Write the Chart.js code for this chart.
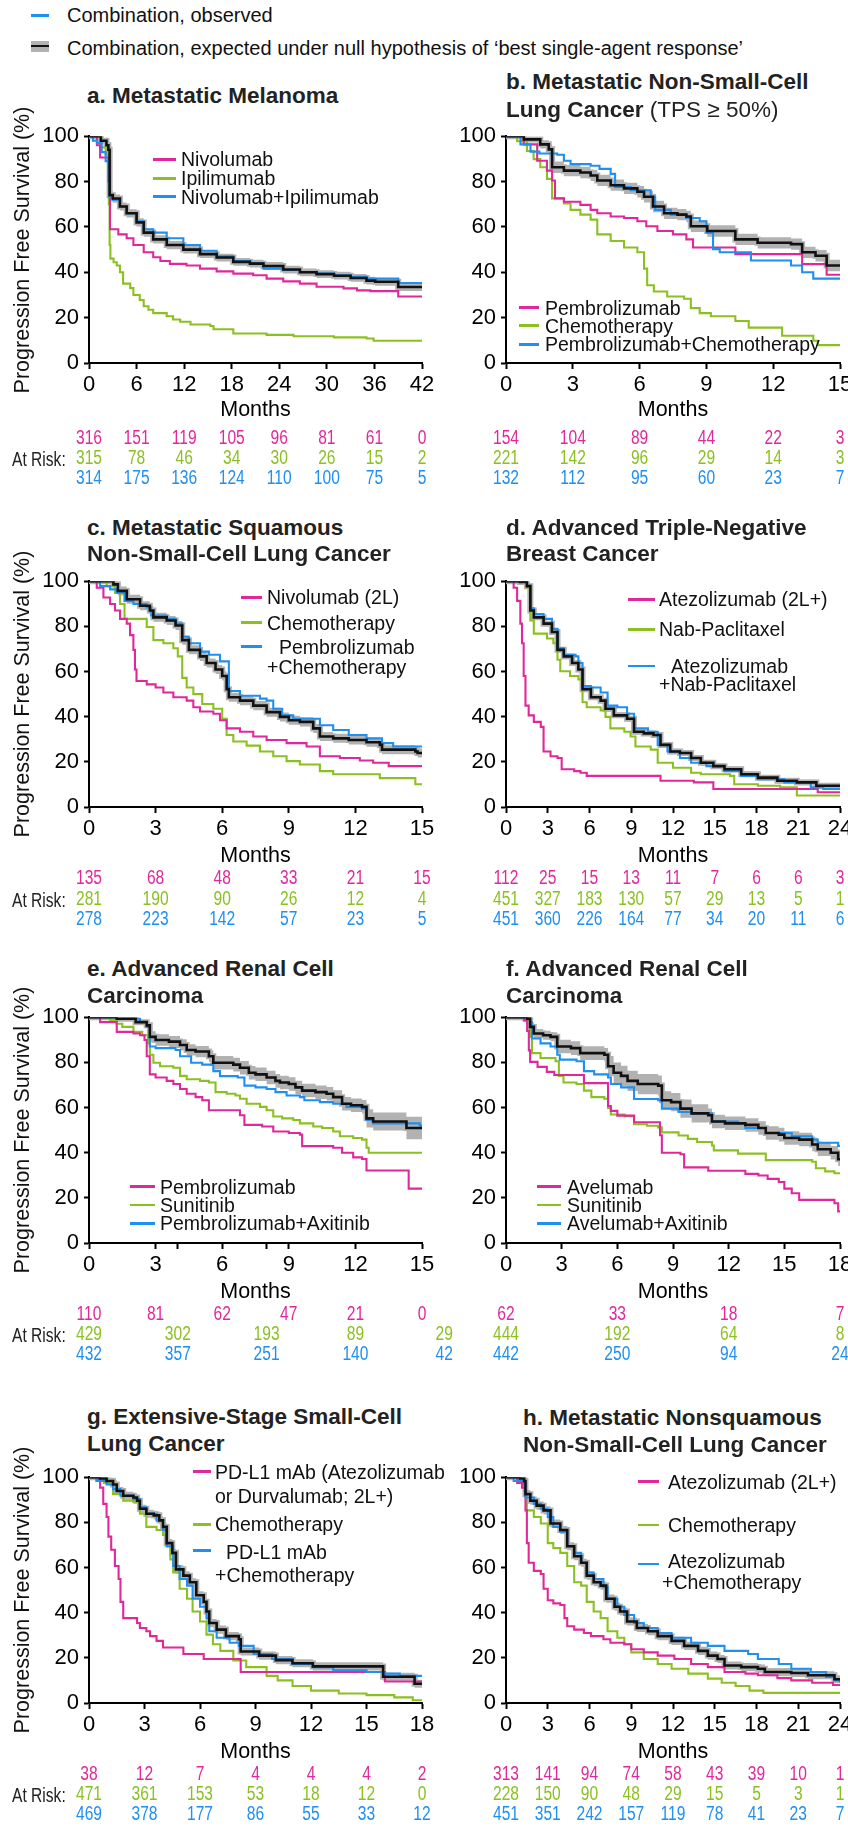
<!DOCTYPE html>
<html><head><meta charset="utf-8">
<script src="https://cdn.jsdelivr.net/npm/chart.js@4.4.1/dist/chart.umd.min.js"></script>
<style>
html,body{margin:0;padding:0;width:848px;height:1827px;overflow:hidden;background:#fff;}
body{position:relative;font-family:'Liberation Sans',Arial,Helvetica,sans-serif;color:#111;}
.abs{position:absolute;white-space:nowrap;}
.title{font-size:22.5px;font-weight:bold;line-height:27.5px;color:#222;}
.title .n{font-weight:normal;}
.leg{font-size:19.5px;line-height:22px;color:#111;}
.top{font-size:20px;line-height:24px;color:#111;}
.ln{position:absolute;height:2.5px;}
.ytitle{font-size:21.5px;width:320px;height:26px;line-height:26px;text-align:center;transform:rotate(-90deg);color:#111;}
.risk{font-size:19.5px;line-height:22px;transform:scaleX(0.8);transform-origin:left center;color:#222;}
canvas{position:absolute;}
</style></head><body>
<script>
// ---------------- DATA ----------------
const yTicks = [0,20,40,60,80,100];

// a. Metastatic Melanoma
const aTicks = [0,6,12,18,24,30,36,42];
const aNivo = [[0,100],[1.0,96],[1.4,90.6],[2.5,89],[2.65,59],[3.7,56.7],[4.75,55],[5.6,52],[6.9,48.8],[8.1,46.6],[9,45],[10.2,43.7],[12.3,43],[14,41.6],[16.1,40.4],[18.2,39.4],[20.7,38.7],[22.4,37.2],[24.5,36],[26.6,35],[28.7,33.6],[32.1,32.9],[33.8,32],[35.5,31.7],[39,29.3],[42,29.3]];
const aIpi = [[0,100],[1.4,95],[2.1,92],[2.4,88],[2.5,70],[2.6,52],[2.7,46],[3.1,44.4],[3.5,43],[3.9,40],[4.3,35],[5.2,33],[5.6,30],[6.4,27.8],[6.9,25],[7.5,23.5],[8.1,22],[9.8,20.6],[10.6,19.2],[11.5,18.2],[12.8,17],[15.3,16.3],[15.7,14.9],[18.2,13],[22.4,12.4],[25.8,11.8],[30.9,11.3],[35,10.8],[35.9,9.8],[42,9.8]];
const aCombo = [[0,100],[0.5,98],[1.0,97],[1.6,93],[2.1,89],[2.44,80],[2.6,73],[3.0,72],[3.9,69],[4.75,66],[6,62.5],[6.9,59],[8.1,57.5],[9.8,55],[11.9,52],[14,49.5],[16.1,47],[18.2,45],[20.3,44],[22,41.6],[24.5,41],[26.6,40],[28.7,39.4],[30.9,38.7],[33,38],[35,37.2],[39,35.3],[42,35.3]];
const aExp = [[0,100],[1.5,98],[2.2,96],[2.44,94],[2.6,74],[3.0,72.5],[3.9,69],[4.75,66],[6,62],[6.9,57.5],[8.1,54.5],[9.8,52],[11.9,50],[14,48],[16.1,46.5],[18.2,44.6],[20.3,43.8],[22,42.8],[24.5,41.2],[26.6,40],[28.7,39.2],[30.9,38.5],[33,37.5],[35,36.3],[36.1,35.8],[39,33.5],[42,33.5]];
const aBand = [[0,99.5,100],[1.5,96.8,99.2],[2.2,94.6,97.4],[2.44,92.5,95.5],[2.6,72.2,75.8],[3.0,70.7,74.3],[3.9,67.2,70.8],[4.75,64.2,67.8],[6,60.2,63.8],[6.9,55.7,59.3],[8.1,52.7,56.3],[9.8,50.2,53.8],[11.9,48.3,51.7],[14,46.3,49.7],[16.1,44.8,48.2],[18.2,42.9,46.3],[20.3,42.1,45.5],[22,41.1,44.5],[24.5,39.5,42.9],[26.6,38.3,41.7],[28.7,37.5,40.9],[30.9,36.8,40.2],[33,35.8,39.2],[35,34.6,38],[36.1,34.1,37.5],[39,31.8,35.2],[42,31.8,35.2]];
const aRiskT = [0,6,12,18,24,30,36,42];
const aRiskMag = [316,151,119,105,96,81,61,0];
const aRiskGrn = [315,78,46,34,30,26,15,2];
const aRiskBlu = [314,175,136,124,110,100,75,5];

// b. Metastatic NSCLC (TPS >= 50%)
const bTicks = [0,3,6,9,12,15];
const bPembro = [[0,100],[0.8,96.4],[1.4,89.2],[1.84,84.8],[2.07,80.5],[2.2,72.6],[2.6,71.1],[3.34,69.7],[3.8,67.5],[4.1,66],[4.7,64.6],[5.3,63.9],[5.9,62.5],[6.3,60.3],[6.8,58.2],[7.5,56.7],[8.1,54.5],[8.4,50.9],[10.3,48],[13.3,43.6],[14.4,38.9],[15,38.9]];
const bChemo = [[0,100],[0.5,97.8],[0.94,93.5],[1.24,89.9],[1.54,86.3],[1.84,81.2],[2.07,72.6],[2.6,70.4],[2.9,67.5],[3.34,65.4],[3.8,63.2],[4.1,56.7],[4.7,53.8],[5.3,50.9],[5.9,48.8],[6.2,41.6],[6.34,34.3],[6.64,31.5],[7.24,29.3],[8.0,28.3],[8.3,24.2],[8.7,22],[9.2,20.6],[10.3,18.5],[10.9,15.6],[12.4,12],[13.8,9.8],[14,7.9],[15,7.9]];
const bCombo = [[0,100],[0.65,96.4],[1.1,93.2],[1.5,92.4],[2.3,91.8],[2.6,89.2],[2.9,87.7],[3.8,87],[4.2,85.6],[4.7,83.4],[4.9,77.6],[5.6,76.2],[6.5,73.3],[6.7,67.5],[7.4,65.4],[8.1,63.9],[8.7,62.5],[9.0,57.4],[9.3,50.2],[9.6,48.8],[11,45.2],[12.8,43],[13.3,40],[13.8,37.2],[15,37.2]];
const bExp = [[0,100],[0.8,98.6],[1.54,96.4],[1.92,94.2],[2.07,86.3],[2.6,84.8],[3.34,84],[3.8,82.7],[4.1,80.5],[4.7,78.4],[5.3,77],[5.9,75.5],[6.2,73.3],[6.6,69],[7.1,66],[7.7,65.4],[8.1,64.6],[8.3,60.3],[9.04,58.2],[10.3,54.5],[11.3,53],[12.8,52.4],[13.3,48.8],[13.9,47.3],[14.4,43],[15,42.7]];
const bBand = [[0,99.5,100],[0.8,97.6,99.6],[1.54,94.6,98.2],[1.92,92,96.4],[2.07,83.8,88.8],[2.6,82.3,87.3],[3.34,81.5,86.5],[3.8,80.2,85.2],[4.1,78,83],[4.7,75.9,80.9],[5.3,74.5,79.5],[5.9,73,78],[6.2,70.8,75.8],[6.6,66.5,71.5],[7.1,63.5,68.5],[7.7,62.9,67.9],[8.1,62.1,67.1],[8.3,57.8,62.8],[9.04,55.7,60.7],[10.3,52,57],[11.3,50.5,55.5],[12.8,49.9,54.9],[13.3,46.3,51.3],[13.9,44.8,49.8],[14.4,40.5,45.5],[15,40.2,45.2]];
const bRiskT = [0,3,6,9,12,15];
const bRiskMag = [154,104,89,44,22,3];
const bRiskGrn = [221,142,96,29,14,3];
const bRiskBlu = [132,112,95,60,23,7];

// c. Metastatic Squamous NSCLC
const cTicks = [0,3,6,9,12,15];
const cNivo = [[0,100],[0.35,97.1],[0.65,92.8],[0.95,89.9],[1.17,87],[1.4,83.3],[1.7,81.2],[1.85,76.1],[2.0,69.6],[2.07,60.9],[2.14,55.8],[2.6,54.3],[3.0,52.9],[3.35,50.7],[3.8,48.6],[4.4,47.1],[4.7,44.2],[5.0,42.3],[5.6,41.3],[5.9,38.4],[6.2,34.8],[6.8,33.3],[7.4,31.2],[8.0,29.7],[8.9,28.3],[9.8,26.8],[10.4,22.5],[11.3,21.7],[12.2,20.6],[12.8,19.6],[13.5,18.1],[15,18.1]];
const cChemo = [[0,100],[0.8,97.8],[1.17,94.9],[1.4,89.9],[1.6,83.3],[2.6,79.7],[2.9,73.9],[3.35,72.5],[3.8,70.3],[4.0,66.7],[4.2,57.2],[4.4,52.9],[4.7,50],[5.1,45.6],[5.6,43.5],[6.0,39.1],[6.2,31.9],[6.5,29],[7.1,27.2],[7.7,24.6],[8.3,22.5],[8.9,20.3],[9.5,18.8],[10.4,15.9],[11.0,14.5],[13.1,12.8],[14.7,10.1],[15,10.1]];
const cCombo = [[0,100],[0.5,97.8],[0.95,96.4],[1.25,94.9],[1.6,91.3],[2.0,89.9],[2.6,88.4],[2.8,84.8],[3.5,83.3],[3.9,81.2],[4.2,75.4],[4.5,72.5],[5.0,68.8],[5.4,67.4],[5.9,64.5],[6.3,51.4],[6.8,49.3],[7.7,48],[8.0,47.1],[8.3,43.5],[8.7,40.6],[9.2,39.1],[10.4,36.2],[11.0,34.1],[11.7,31.9],[12.5,30.4],[13.2,28.3],[13.7,26.8],[15,26.8]];
const cExp = [[0,100],[1.1,98.6],[1.3,95.7],[1.7,92],[2.3,89.1],[2.74,87],[2.9,84],[3.5,82.6],[3.9,80.4],[4.2,73.9],[4.5,69.6],[5.0,66.7],[5.3,63.8],[5.7,60.9],[6.0,58],[6.2,52.2],[6.3,48.6],[6.8,47.1],[7.4,44.9],[8.0,42],[8.6,39.9],[9.0,38.4],[9.5,37.7],[10.1,34.8],[10.4,31.2],[11,30.4],[11.7,29.7],[12.5,28.7],[13.1,27.5],[13.2,25.4],[14.7,24.6],[14.8,23.9],[15,23.9]];
const cBand = [[0,99.5,100],[1.1,97,100],[1.3,93.7,97.7],[1.7,90,94],[2.3,87.1,91.1],[2.74,85,89],[2.9,82,86],[3.5,80.6,84.6],[3.9,78.4,82.4],[4.2,71.9,75.9],[4.5,67.6,71.6],[5.0,64.7,68.7],[5.3,61.8,65.8],[5.7,58.9,62.9],[6.0,56,60],[6.2,50.2,54.2],[6.3,46.6,50.6],[6.8,45.1,49.1],[7.4,42.9,46.9],[8.0,40,44],[8.6,37.9,41.9],[9.0,36.4,40.4],[9.5,35.7,39.7],[10.1,32.8,36.8],[10.4,29.2,33.2],[11,28.4,32.4],[11.7,27.7,31.7],[12.5,26.7,30.7],[13.1,25.5,29.5],[13.2,23.4,27.4],[14.7,22.6,26.6],[14.8,21.9,25.9],[15,21.9,25.9]];
const cRiskT = [0,3,6,9,12,15];
const cRiskMag = [135,68,48,33,21,15];
const cRiskGrn = [281,190,90,26,12,4];
const cRiskBlu = [278,223,142,57,23,5];

// d. Advanced Triple-Negative Breast Cancer
const dTicks = [0,3,6,9,12,15,18,21,24];
const dAtezo = [[0,100],[0.55,97.1],[0.8,91.3],[1.03,81.2],[1.15,72.5],[1.27,58],[1.4,44.9],[1.63,40.6],[2.0,37.7],[2.5,35.5],[2.7,24.6],[3.2,22.5],[3.7,21.7],[4.0,16.7],[4.9,15.9],[5.35,15.2],[5.8,13.8],[11.1,11.6],[13.5,10.9],[14.9,8],[22.4,6.5],[24,6.5]];
const dNab = [[0,100],[1.5,97.1],[1.75,82.6],[2.0,76.8],[2.95,74.6],[3.4,72.5],[3.7,65.2],[3.9,60.1],[4.6,58],[5.2,56.5],[5.5,46.4],[5.8,44.2],[6.8,42.8],[7.15,39.9],[7.5,34.8],[8.5,33.3],[8.95,31.2],[9.3,26.8],[10.4,25.4],[10.9,19.6],[12.0,17.4],[13.3,15.2],[14.0,14.5],[16.1,13.8],[16.4,10.1],[18.1,9.4],[19.7,8.7],[20.9,5.1],[24,5.1]];
const dCombo = [[0,100],[1.5,98],[1.75,88],[2.0,85.5],[2.7,83.3],[3.3,78.9],[3.7,70.3],[4.15,67.4],[5.0,66.7],[5.2,63.8],[5.5,53.6],[6.1,52.9],[6.8,50.7],[7.3,44.9],[8.0,44.2],[8.7,41.3],[9.2,34.8],[10.2,33.3],[10.9,27.5],[11.6,24.6],[12.5,21.7],[13.3,19.6],[14.4,18.1],[15.7,15.9],[16.9,13.8],[18.1,12.3],[20,10.9],[21.9,8.7],[22.8,8],[24,8]];
const dExp = [[0,100],[1.0,99.7],[1.5,97.8],[1.75,87],[2.0,84],[2.7,81.2],[3.3,77.5],[3.7,69.6],[4.15,66.7],[4.75,63.8],[5.2,60.9],[5.5,52.2],[6.1,48.6],[6.8,47.1],[7.15,43.5],[7.75,40.6],[8.7,39.1],[9.2,33.3],[9.9,32.6],[10.6,31.9],[11.1,27.5],[11.8,24.6],[12.5,23.9],[13.3,21.7],[14.0,19.6],[14.9,18.1],[15.7,16.7],[16.9,14.5],[18.1,13],[19.5,11.6],[20.9,10.9],[22.3,9.4],[24,9.4]];
const dBand = [[0,99.5,100],[1.0,98.7,100],[1.5,96.6,99],[1.75,85.8,88.2],[2.0,82.8,85.2],[2.7,80,82.4],[3.3,76.3,78.7],[3.7,68.4,70.8],[4.15,65.5,67.9],[4.75,62.6,65],[5.2,59.7,62.1],[5.5,51,53.4],[6.1,47.4,49.8],[6.8,45.9,48.3],[7.15,42.3,44.7],[7.75,39.4,41.8],[8.7,37.9,40.3],[9.2,32.1,34.5],[9.9,31.4,33.8],[10.6,30.7,33.1],[11.1,26.3,28.7],[11.8,23.4,25.8],[12.5,22.7,25.1],[13.3,20.5,22.9],[14.0,18.4,20.8],[14.9,16.9,19.3],[15.7,15.5,17.9],[16.9,13.3,15.7],[18.1,11.8,14.2],[19.5,10.4,12.8],[20.9,9.7,12.1],[22.3,8.2,10.6],[24,8.2,10.6]];
const dRiskT = [0,3,6,9,12,15,18,21,24];
const dRiskMag = [112,25,15,13,11,7,6,6,3];
const dRiskGrn = [451,327,183,130,57,29,13,5,1];
const dRiskBlu = [451,360,226,164,77,34,20,11,6];

// e. Advanced Renal Cell Carcinoma (pembrolizumab)
const eTicks = [0,3,4,6,8,9,12,15];
const eTickLabels = ['0','3','','6','','9','12','15'];
const ePembro = [[0,100],[0.5,97.8],[1.25,93.5],[2.0,92.8],[2.3,92],[2.5,89.9],[2.6,82.7],[2.74,74.7],[3.0,73.3],[3.5,71.8],[3.8,70.4],[4.1,68.2],[4.4,66.1],[4.8,64.6],[5.1,63.2],[5.4,58.8],[6.8,56.6],[7.0,52.3],[7.8,51.6],[8.3,49.4],[9.0,48.7],[9.5,48],[9.6,42.9],[11.0,42.2],[11.4,40],[11.9,37.9],[12.3,37.2],[12.5,32.1],[14.4,24.1],[15,24.1]];
const eSuni = [[0,100],[0.95,98.6],[1.25,97.1],[1.5,95.7],[2.0,93.5],[2.4,92],[2.66,88.4],[2.74,83.4],[2.9,79.8],[3.2,78.3],[3.8,77.6],[4.1,74],[4.4,72.5],[5.0,71.8],[5.4,71.1],[5.7,66.8],[6.2,66.1],[6.6,65.3],[6.8,63.9],[7.1,61.7],[7.7,60.3],[8.0,58.8],[8.3,56],[8.7,55.2],[9.2,54.5],[9.5,53],[10.1,51.6],[10.5,50.9],[11.0,49.4],[11.3,47.3],[11.9,46.5],[12.3,45.8],[12.5,42.2],[12.6,40],[15,40]];
const eCombo = [[0,100],[1.25,99.3],[2.3,97.8],[2.6,95.7],[2.74,87],[3.0,86.3],[3.9,85.5],[4.1,82.7],[4.6,79.8],[5.1,79],[5.6,76.1],[5.9,73.9],[6.7,73.3],[7.0,69.7],[7.5,68.9],[8.0,68.2],[8.4,66.8],[8.9,65.3],[9.5,64.6],[9.7,63.2],[10.4,62.4],[11.0,61.7],[11.6,60.3],[12.3,59.5],[12.5,54.5],[12.8,53],[14.9,52],[15,52]];
const eExp = [[0,100],[1.25,99.3],[2.1,97.8],[2.6,96.4],[2.74,91.3],[3.0,89.9],[3.6,89.2],[4.1,87.7],[4.4,85.5],[4.8,84.8],[5.4,82.7],[5.6,79.8],[6.5,79],[6.8,77.6],[7.2,75.4],[7.5,74.7],[8.0,73.3],[8.4,71.8],[8.6,71.1],[9.0,70.4],[9.3,68.9],[9.6,67.5],[10.2,66.8],[10.7,66.1],[11.0,64.6],[11.4,61.7],[11.8,61],[12.3,60.3],[12.5,55.2],[12.8,53.8],[14.3,50.9],[15,50.9]];
const eBand = [[0,99.5,100],[1.25,98.5,100],[2.1,97,98.6],[2.6,95.6,97.2],[2.74,88.8,93.8],[3.0,87.4,92.4],[3.6,86.7,91.7],[4.1,85.2,90.2],[4.4,83,88],[4.8,82.3,87.3],[5.4,80.2,85.2],[5.6,76.8,82.8],[6.5,76,82],[6.8,74.6,80.6],[7.2,72.4,78.4],[7.5,71.7,77.7],[8.0,70.3,76.3],[8.4,68.8,74.8],[8.6,68.1,74.1],[9.0,67.4,73.4],[9.3,65.9,71.9],[9.6,64.5,70.5],[10.2,63.8,69.8],[10.7,63.1,69.1],[11.0,61.6,67.6],[11.4,58.7,64.7],[11.8,58,64],[12.3,57.3,63.3],[12.5,51.2,59.2],[12.8,49.8,57.8],[14.3,45.9,55.9],[15,45.9,55.9]];
const eRiskTMag = [0,3,6,9,12,15];
const eRiskTOther = [0,4,8,12,16];
const eRiskMag = [110,81,62,47,21,0];
const eRiskGrn = [429,302,193,89,29];
const eRiskBlu = [432,357,251,140,42];

// f. Advanced Renal Cell Carcinoma (avelumab)
const fTicks = [0,3,6,9,12,15,18];
const fAvel = [[0,100],[0.96,98.6],[1.14,93.9],[1.23,85.3],[1.3,80.2],[1.7,78],[2.2,75.8],[2.6,74.4],[4.2,70.8],[5.5,60.7],[5.65,58.5],[6.0,56.4],[6.9,53.5],[8.3,47.7],[8.4,40],[9.4,39.3],[9.6,33.5],[10.9,32],[12.9,30.6],[13.6,29.9],[14.1,28.4],[14.7,27],[15.0,24.1],[15.4,22],[15.8,19.1],[17.7,17.6],[17.9,14],[18,14]];
const fSuni = [[0,100],[1.14,98.6],[1.3,91.3],[1.4,84.1],[1.86,81.9],[2.67,80.5],[2.85,74],[3.1,71.1],[3.8,70.4],[4.2,67.5],[4.6,64.6],[5.3,63.9],[5.5,59.8],[5.65,56.9],[6.4,56.2],[6.9,52.6],[7.6,51.9],[8.2,51.2],[8.4,49],[9.3,47.6],[9.8,46.1],[10.3,44.7],[11.1,43.2],[11.2,41],[12.5,39.6],[14.0,36.7],[16.5,36],[16.7,33.1],[17.2,31.7],[17.7,30.9],[18,30.9]];
const fCombo = [[0,100],[1.3,97.8],[1.4,90.6],[1.86,88.4],[2.4,87],[2.76,83.4],[2.9,81.2],[3.8,80.5],[4.2,76.1],[4.75,74.7],[5.5,73.3],[5.65,70.4],[6.2,68.9],[6.9,63.8],[8.2,63.2],[8.4,59.5],[9.3,58],[10.0,57.4],[11.1,53.8],[12.5,53],[12.9,50.9],[14.0,48.7],[15.4,47.3],[16.5,45.8],[16.8,44.4],[17.9,43],[18,43]];
const fExp = [[0,100],[1.14,99.3],[1.3,95.7],[1.5,92.8],[2.0,92],[2.4,91.3],[2.76,87],[3.5,86.3],[4.0,84.1],[5.3,83.4],[5.5,78.3],[5.8,75.4],[6.2,74],[6.55,71.8],[7.1,70.4],[8.2,69.7],[8.4,63.2],[8.9,62.4],[9.4,59.5],[10.0,57.4],[10.9,56.6],[11.1,53.8],[11.8,53],[12.9,52.3],[13.6,50.9],[14.0,48.7],[14.7,48],[15.0,46.5],[15.8,45.8],[16.5,43.6],[16.8,41.5],[17.5,40],[17.9,37.1],[18,37.1]];
const fBand = [[0,99.4,100],[1.14,98.7,99.9],[1.3,93.7,97.7],[1.5,90.8,94.8],[2.0,90,94],[2.4,89.3,93.3],[2.76,84,90],[3.5,83.3,89.3],[4.0,81.1,87.1],[5.3,80.4,86.4],[5.5,73.8,82.8],[5.8,70.9,79.9],[6.2,69.5,78.5],[6.55,67.3,76.3],[7.1,65.9,74.9],[8.2,65.2,74.2],[8.4,59.2,67.2],[8.9,58.4,66.4],[9.4,55.5,63.5],[10.0,53.4,61.4],[10.9,53.6,59.6],[11.1,50.8,56.8],[11.8,50,56],[12.9,49.3,55.3],[13.6,47.9,53.9],[14.0,45.7,51.7],[14.7,45,51],[15.0,43.5,49.5],[15.8,42.8,48.8],[16.5,40.6,46.6],[16.8,38.5,44.5],[17.5,37,43],[17.9,34.1,40.1],[18,34.1,40.1]];
const fRiskT = [0,6,12,18];
const fRiskMag = [62,33,18,7];
const fRiskGrn = [444,192,64,8];
const fRiskBlu = [442,250,94,24];

// g. Extensive-Stage SCLC
const gTicks = [0,3,6,9,12,15,18];
const gPDL1 = [[0,100],[0.5,99],[0.6,95.4],[0.77,88.2],[0.95,82.4],[1.05,73.7],[1.2,67.9],[1.4,60.7],[1.6,54.9],[1.7,44.8],[1.85,37.6],[2.6,35.4],[2.75,33.2],[3.1,31.8],[3.3,29.6],[3.65,27.5],[4.0,24.6],[5.1,21.7],[6.2,19.5],[8.2,13.7],[16.0,9.5],[18,9.5]];
const gChemo = [[0,100],[0.4,99],[0.8,97.5],[1.3,92.5],[1.85,89.6],[2.4,88.9],[2.75,83.8],[3.1,78],[3.65,76.6],[4.0,74.4],[4.2,69.4],[4.4,63.6],[4.55,57.8],[4.9,50.6],[5.3,46.2],[5.6,40.5],[6.0,36.1],[6.35,30.3],[6.7,26],[7.1,23.1],[7.8,18.8],[8.5,15.9],[9.6,12],[10.2,10],[11,7.5],[12,5.5],[13.5,4.2],[15,3.5],[16.5,2.5],[17.5,1.2],[18,1.2]];
const gCombo = [[0,100],[0.4,98.3],[0.95,96.8],[1.3,94.7],[1.7,91.8],[2.4,90.3],[2.75,86.7],[3.1,83.8],[3.65,80.9],[4.0,76.6],[4.2,69.4],[4.55,60.7],[4.9,54.9],[5.3,52],[5.6,46.2],[6.0,42.6],[6.35,37.6],[6.5,31.8],[6.9,28.9],[7.6,26.7],[8.1,25.3],[8.9,21.7],[9.9,19.5],[11.0,17.3],[12.1,15.9],[13.2,14.5],[15.0,13.7],[15.9,13],[16.8,12],[18,12]];
const gExp = [[0,100],[0.6,99.4],[0.95,98.3],[1.3,96.8],[1.5,93.9],[1.85,91.8],[2.4,91],[2.6,89.6],[2.75,86],[3.1,83.8],[3.5,83.1],[3.8,80.9],[4.0,78],[4.2,70.8],[4.5,66.5],[4.7,59.2],[5.1,56.4],[5.45,53.5],[5.8,47.7],[6.2,44.8],[6.35,40.5],[6.5,35.4],[6.9,32.5],[7.4,29.6],[8.1,28.2],[8.2,22.8],[9.2,21],[10.1,19],[11.0,17.6],[12.1,16.2],[15.9,11.6],[17.6,8.5],[18,8.5]];
const gBand = [[0,99.5,100],[0.6,98.4,100],[0.95,96.5,100],[1.3,95,98.6],[1.5,92.1,95.7],[1.85,90,93.6],[2.4,89.2,92.8],[2.6,87.8,91.4],[2.75,84.2,87.8],[3.1,82,85.6],[3.5,81.3,84.9],[3.8,79.1,82.7],[4.0,76.2,79.8],[4.2,69,72.6],[4.5,64.7,68.3],[4.7,57.4,61],[5.1,54.6,58.2],[5.45,51.7,55.3],[5.8,45.9,49.5],[6.2,43,46.6],[6.35,38.7,42.3],[6.5,33.6,37.2],[6.9,30.7,34.3],[7.4,27.8,31.4],[8.1,26.4,30],[8.2,21,24.6],[9.2,19.2,22.8],[10.1,17.2,20.8],[11.0,15.8,19.4],[12.1,14.4,18],[15.9,9.8,13.4],[17.6,6.7,10.3],[18,6.7,10.3]];
const gRiskT = [0,3,6,9,12,15,18];
const gRiskMag = [38,12,7,4,4,4,2];
const gRiskGrn = [471,361,153,53,18,12,0];
const gRiskBlu = [469,378,177,86,55,33,12];

// h. Metastatic Nonsquamous NSCLC
const hTicks = [0,3,6,9,12,15,18,21,24];
const hAtezo = [[0,100],[0.8,97.5],[1.15,95.4],[1.4,85.3],[1.5,70.8],[1.63,62.1],[2.0,58.5],[2.5,57.1],[2.7,50.6],[3.0,45.5],[3.4,44.1],[3.9,43.4],[4.2,37.6],[4.4,34],[4.9,32.5],[5.6,31],[6.1,29.6],[7.0,28.2],[7.5,26.7],[8.5,26],[9.0,23.8],[9.9,22.4],[10.9,21],[12.1,19.5],[13.3,17.3],[14.5,15.9],[15.7,13.7],[17.2,13],[18.1,12.3],[19.5,11],[20.5,10],[22,9],[23.5,8],[24,8]];
const hChemo = [[0,100],[0.8,99],[1.3,93.9],[1.5,85.3],[2.0,82.4],[2.5,79.5],[3.0,70.8],[3.4,68.6],[3.9,66.5],[4.4,60.7],[4.9,53.5],[5.4,52],[5.8,44.8],[6.3,40.5],[6.8,37.6],[7.3,31.8],[8.0,28.9],[8.5,26],[9.0,22.4],[9.9,19.5],[10.9,17.3],[11.9,15.2],[13.1,13],[14.5,10.8],[15.5,9],[16.5,7.5],[17.5,5.5],[18.5,4.5],[24,4.5]];
const hCombo = [[0,100],[0.55,98.3],[1.3,96.8],[1.4,91],[2.0,88.2],[2.5,86],[3.0,82.4],[3.4,78],[3.9,75.9],[4.4,69.4],[4.9,66.5],[5.4,62.1],[5.8,57.8],[6.3,54.9],[7.0,51.3],[7.3,46.2],[8.0,42.6],[8.5,39],[9.2,35.4],[9.9,33.2],[10.9,31],[11.9,28.9],[13.3,26.7],[14.5,25.3],[15.7,23.1],[17.4,21.7],[18.1,19.5],[19.6,17.3],[20.5,15.2],[21.9,13.7],[23.0,11.5],[23.6,10],[24,9]];
const hExp = [[0,100],[1.0,99.4],[1.3,98.3],[1.4,92.5],[1.75,89.6],[2.2,87.4],[2.7,85.3],[3.2,79.5],[3.9,76.6],[4.4,69.4],[4.9,65],[5.4,62.1],[5.8,56.4],[6.3,53.5],[6.8,52],[7.2,46.2],[7.8,42.6],[8.2,40.5],[8.7,36.1],[9.4,33.2],[10.2,31.8],[10.9,29.6],[11.9,27.5],[12.8,25.3],[13.8,23.1],[14.5,21],[15.2,19.5],[15.7,16.6],[16.9,15.9],[18.1,15.2],[18.6,13.7],[20.5,13.3],[21.7,12.3],[23.6,10.5],[24,10.5]];
const hBand = [[0,99.5,100],[1.0,98.6,100],[1.3,96.5,100],[1.4,90.7,94.3],[1.75,87.8,91.4],[2.2,85.6,89.2],[2.7,83.5,87.1],[3.2,77.7,81.3],[3.9,74.8,78.4],[4.4,67.6,71.2],[4.9,63.2,66.8],[5.4,60.3,63.9],[5.8,54.6,58.2],[6.3,51.7,55.3],[6.8,50.2,53.8],[7.2,44.4,48],[7.8,40.8,44.4],[8.2,38.7,42.3],[8.7,34.3,37.9],[9.4,31.4,35],[10.2,30,33.6],[10.9,27.8,31.4],[11.9,25.7,29.3],[12.8,23.5,27.1],[13.8,21.3,24.9],[14.5,19.2,22.8],[15.2,17.7,21.3],[15.7,14.8,18.4],[16.9,14.1,17.7],[18.1,13.4,17],[18.6,11.9,15.5],[20.5,11.5,15.1],[21.7,10.5,14.1],[23.6,8.7,12.3],[24,8.7,12.3]];
const hRiskT = [0,3,6,9,12,15,18,21,24];
const hRiskMag = [313,141,94,74,58,43,39,10,1];
const hRiskGrn = [228,150,90,48,29,15,5,3,1];
const hRiskBlu = [451,351,242,157,119,78,41,23,7];

// ---------------- STYLE / LAYOUT ----------------
const COLORS = {mag:'#e0289b', grn:'#8cc021', blu:'#1f8ff0', blk:'#111111', band:'#b2b2b2'};
Chart.defaults.font.family = '"Liberation Sans", Arial, Helvetica, sans-serif';
Chart.defaults.color = '#000';

const panels = [
 {L:89,R:422,T:132,B:363,pr:45,xMax:42,ticks:aTicks,labels:aTicks.map(String),exp:aExp,band:aBand,mag:aNivo,grn:aIpi,blu:aCombo,
  risk:[[aRiskT,aRiskMag,'mag'],[aRiskT,aRiskGrn,'grn'],[aRiskT,aRiskBlu,'blu']],riskDy:[76,96,116],monthsDy:47},
 {L:506,R:840,T:132,B:363,pr:30,xMax:15,ticks:bTicks,labels:bTicks.map(String),exp:bExp,band:bBand,mag:bPembro,grn:bChemo,blu:bCombo,
  risk:[[bRiskT,bRiskMag,'mag'],[bRiskT,bRiskGrn,'grn'],[bRiskT,bRiskBlu,'blu']],riskDy:[76,96,116],monthsDy:47},
 {L:89,R:422,T:577,B:807,pr:45,xMax:15,ticks:cTicks,labels:cTicks.map(String),exp:cExp,band:cBand,mag:cNivo,grn:cChemo,blu:cCombo,
  risk:[[cRiskT,cRiskMag,'mag'],[cRiskT,cRiskGrn,'grn'],[cRiskT,cRiskBlu,'blu']],riskDy:[72,92.5,113],monthsDy:49},
 {L:506,R:840,T:577,B:807,pr:30,xMax:24,ticks:dTicks,labels:dTicks.map(String),exp:dExp,band:dBand,mag:dAtezo,grn:dNab,blu:dCombo,
  risk:[[dRiskT,dRiskMag,'mag'],[dRiskT,dRiskGrn,'grn'],[dRiskT,dRiskBlu,'blu']],riskDy:[72,92.5,113],monthsDy:49},
 {L:89,R:422,T:1013,B:1243,pr:45,xMax:15,ticks:eTicks,labels:eTickLabels,exp:eExp,band:eBand,mag:ePembro,grn:eSuni,blu:eCombo,
  risk:[[eRiskTMag,eRiskMag,'mag'],[eRiskTOther,eRiskGrn,'grn'],[eRiskTOther,eRiskBlu,'blu']],riskDy:[72,92,112],monthsDy:49},
 {L:506,R:840,T:1013,B:1243,pr:30,xMax:18,ticks:fTicks,labels:fTicks.map(String),exp:fExp,band:fBand,mag:fAvel,grn:fSuni,blu:fCombo,
  risk:[[fRiskT,fRiskMag,'mag'],[fRiskT,fRiskGrn,'grn'],[fRiskT,fRiskBlu,'blu']],riskDy:[72,92,112],monthsDy:49},
 {L:89,R:422,T:1473,B:1703,pr:45,xMax:18,ticks:gTicks,labels:gTicks.map(String),exp:gExp,band:gBand,mag:gPDL1,grn:gChemo,blu:gCombo,
  risk:[[gRiskT,gRiskMag,'mag'],[gRiskT,gRiskGrn,'grn'],[gRiskT,gRiskBlu,'blu']],riskDy:[72,92,112],monthsDy:49},
 {L:506,R:840,T:1473,B:1703,pr:30,xMax:24,ticks:hTicks,labels:hTicks.map(String),exp:hExp,band:hBand,mag:hAtezo,grn:hChemo,blu:hCombo,
  risk:[[hRiskT,hRiskMag,'mag'],[hRiskT,hRiskGrn,'grn'],[hRiskT,hRiskBlu,'blu']],riskDy:[72,92,112],monthsDy:49}
];

const panelOf = new Map();
const riskPlugin = {
  id:'atRisk',
  afterDraw(chart){
    const p = panelOf.get(chart.canvas); if(!p) return;
    const ctx = chart.ctx, xs = chart.scales.x, bottom = chart.chartArea.bottom;
    ctx.save();
    ctx.font = '19.5px "Liberation Sans", Arial, sans-serif';
    ctx.textAlign = 'center'; ctx.textBaseline = 'middle';
    p.risk.forEach((r,i)=>{
      const times = r[0], vals = r[1];
      ctx.fillStyle = COLORS[r[2]];
      times.forEach((t,j)=>{
        const x = xs.getPixelForValue(t), y = bottom + p.riskDy[i];
        ctx.save(); ctx.translate(x,y); ctx.scale(0.8,1); ctx.fillText(String(vals[j]),0,0); ctx.restore();
      });
    });
    ctx.restore();
  }
};

function build(p){
  const cx = p.L - 70, cy = p.T - 14;
  const cw = p.R - p.L + 70 + p.pr, ch = p.B - p.T + 14 + 62 + 80;
  const cv = document.createElement('canvas');
  cv.width = cw; cv.height = ch;
  cv.style.left = cx+'px'; cv.style.top = cy+'px'; cv.style.width = cw+'px'; cv.style.height = ch+'px';
  document.body.appendChild(cv);
  panelOf.set(cv, p);
  const line = (data,color,w)=>({data, borderColor:color, borderWidth:w, stepped:true, pointRadius:0, fill:false});
  const datasets = [
    line(p.exp, COLORS.blk, 2.6),
    line(p.blu, COLORS.blu, 2.1),
    line(p.mag, COLORS.mag, 2.1),
    line(p.grn, COLORS.grn, 2.1),
    line(p.exp, COLORS.band, 6),
    {data:p.band.map(b=>[b[0],b[2]]), borderWidth:0, borderColor:'rgba(0,0,0,0)', stepped:true, pointRadius:0, fill:false},
    {data:p.band.map(b=>[b[0],b[1]]), borderWidth:0, borderColor:'rgba(0,0,0,0)', stepped:true, pointRadius:0, fill:'-1', backgroundColor:COLORS.band}
  ];
  const axisCommon = {
    grid:{display:true, drawOnChartArea:false, drawTicks:true, tickWidth:2, color:'#000'},
    border:{display:true, color:'#000', width:2}
  };
  new Chart(cv, {
    type:'line',
    data:{datasets},
    options:{
      responsive:false, animation:false,
      layout:{padding:{left:0, top:14, right:p.pr, bottom:80}},
      plugins:{legend:{display:false}, tooltip:{enabled:false}},
      scales:{
        x:{type:'linear', min:0, max:p.xMax,
          afterBuildTicks:s=>{s.ticks = p.ticks.map(v=>({value:v}));},
          afterFit:s=>{s.height = 62;},
          ticks:{autoSkip:false, maxRotation:0, minRotation:0, padding:3, font:{size:22}, color:'#000', callback:(v,i)=>p.labels[i]},
          grid:Object.assign({}, axisCommon.grid, {tickLength:6}),
          border:axisCommon.border,
          title:{display:true, text:'Months', font:{size:21.5}, color:'#000', padding:{top:0, bottom:Math.max(0, 62 - 12.9 - p.monthsDy)}}
        },
        y:{type:'linear', min:0, max:100,
          afterBuildTicks:s=>{s.ticks = yTicks.map(v=>({value:v}));},
          afterFit:s=>{s.width = 70;},
          ticks:{padding:5, font:{size:22}, color:'#000'},
          grid:Object.assign({}, axisCommon.grid, {tickLength:5}),
          border:axisCommon.border
        }
      }
    },
    plugins:[riskPlugin]
  });
}
panels.forEach(build);

// ---------------- HTML TEXT ----------------
function el(cls, x, y, h, html){
  const d = document.createElement('div');
  d.className = 'abs ' + cls; d.style.left = x+'px'; d.style.top = (y - h/2)+'px';
  d.innerHTML = html; document.body.appendChild(d); return d;
}
function ln(x1,x2,y,color,h){
  const d = document.createElement('div');
  d.className = 'ln'; d.style.left = x1+'px'; d.style.width = (x2-x1)+'px';
  const hh = h || 2.5; d.style.height = hh+'px'; d.style.top = (y - hh/2)+'px';
  d.style.background = color; document.body.appendChild(d);
}

// top legend
ln(31,49,15.5,COLORS.blu,2.6);
el('top',67,15,24,'Combination, observed');
ln(31,49,46,COLORS.band,11);
ln(31,49,46,COLORS.blk,2.6);
el('top',67,47.5,24,'Combination, expected under null hypothesis of \u2018best single-agent response\u2019');

// titles
const titles = [
 [87,95.7,'a. Metastatic Melanoma'],
 [506,81.7,'b. Metastatic Non-Small-Cell'],[506,109.3,'Lung Cancer <span class="n">(TPS \u2265 50%)</span>'],
 [87,527.3,'c. Metastatic Squamous'],[87,554,'Non-Small-Cell Lung Cancer'],
 [506,527.3,'d. Advanced Triple-Negative'],[506,554,'Breast Cancer'],
 [87,968.3,'e. Advanced Renal Cell'],[87,996,'Carcinoma'],
 [506,968.3,'f. Advanced Renal Cell'],[506,996,'Carcinoma'],
 [87,1416.7,'g. Extensive-Stage Small-Cell'],[87,1444,'Lung Cancer'],
 [523,1417.3,'h. Metastatic Nonsquamous'],[523,1444.3,'Non-Small-Cell Lung Cancer']
];
titles.forEach(t=>el('title',t[0],t[1],27.5,t[2]));

// y-axis titles
[249.5,694,1130,1590].forEach(y=>{
  const d = document.createElement('div');
  d.className = 'abs ytitle'; d.style.left = (22-160)+'px'; d.style.top = (y-13)+'px';
  d.textContent = 'Progression Free Survival (%)'; document.body.appendChild(d);
});

// At Risk labels
[459,899.5,1335,1795].forEach(y=>el('risk',12,y,22,'At Risk:'));

// in-plot legends
const legends = [
 {lines:[[153,176,159.3,'mag'],[153,176,178.3,'grn'],[153,176,196.7,'blu']], texts:[[181,159.3,'Nivolumab'],[181,178.3,'Ipilimumab'],[181,196.7,'Nivolumab+Ipilimumab']]},
 {lines:[[519,539,307.7,'mag'],[519,539,325.7,'grn'],[519,539,344.3,'blu']], texts:[[545,307.7,'Pembrolizumab'],[545,325.7,'Chemotherapy'],[545,344.3,'Pembrolizumab+Chemotherapy']]},
 {lines:[[241,262,597.3,'mag'],[241,262,622.7,'grn'],[241,262,646.7,'blu']], texts:[[267,597.3,'Nivolumab (2L)'],[267,622.7,'Chemotherapy'],[279,647.3,'Pembrolizumab'],[267,667.3,'+Chemotherapy']]},
 {lines:[[628,655,599.3,'mag'],[628,655,629.3,'grn'],[628,655,666,'blu']], texts:[[659,599.3,'Atezolizumab (2L+)'],[659,629.3,'Nab-Paclitaxel'],[671,665.7,'Atezolizumab'],[659,684.3,'+Nab-Paclitaxel']]},
 {lines:[[130,155,1186.7,'mag'],[130,155,1205,'grn'],[130,155,1223.3,'blu']], texts:[[160,1186.7,'Pembrolizumab'],[160,1205,'Sunitinib'],[160,1223.3,'Pembrolizumab+Axitinib']]},
 {lines:[[537,561,1186.7,'mag'],[537,561,1205,'grn'],[537,561,1223.3,'blu']], texts:[[567,1186.7,'Avelumab'],[567,1205,'Sunitinib'],[567,1223.3,'Avelumab+Axitinib']]},
 {lines:[[193,211,1471.7,'mag'],[193,211,1524.3,'grn'],[193,211,1550.7,'blu']], texts:[[215,1471.7,'PD-L1 mAb (Atezolizumab'],[215,1495.7,'or Durvalumab; 2L+)'],[215,1524.3,'Chemotherapy'],[226,1551.7,'PD-L1 mAb'],[215,1575,'+Chemotherapy']]},
 {lines:[[638,659,1481.7,'mag'],[638,659,1525,'grn'],[638,659,1564,'blu']], texts:[[668,1481.7,'Atezolizumab (2L+)'],[668,1525,'Chemotherapy'],[668,1561,'Atezolizumab'],[662,1581.7,'+Chemotherapy']]}
];
legends.forEach(L=>{
  L.lines.forEach(l=>ln(l[0],l[1],l[2],COLORS[l[3]],2.5));
  L.texts.forEach(t=>el('leg',t[0],t[1],22,t[2]));
});
</script>
</body></html>
